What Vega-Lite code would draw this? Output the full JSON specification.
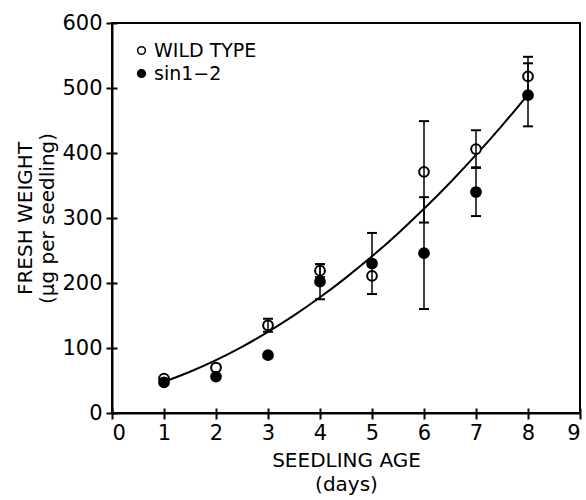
{
  "$schema": "https://vega.github.io/schema/vega-lite/v6.json",
  "width": 468,
  "height": 390,
  "autosize": {"type": "none"},
  "padding": {"left": 112, "top": 23, "right": 6, "bottom": 87},
  "config": {
    "view": {"stroke": "black", "strokeWidth": 2},
    "font": "DejaVu Sans",
    "axis": {
      "grid": false,
      "domainColor": "black",
      "domainWidth": 2,
      "tickColor": "black",
      "tickWidth": 2,
      "labelColor": "black",
      "labelFontSize": 21,
      "titleColor": "black",
      "titleFontSize": 20,
      "titleFontWeight": "normal"
    }
  },
  "datasets": {
    "obs": [
      {"day": 1, "series": "WILD TYPE", "fw": 53},
      {"day": 2, "series": "WILD TYPE", "fw": 70},
      {"day": 3, "series": "WILD TYPE", "fw": 135, "lo": 125, "hi": 145},
      {"day": 4, "series": "WILD TYPE", "fw": 219, "lo": 209, "hi": 229},
      {"day": 5, "series": "WILD TYPE", "fw": 211},
      {"day": 6, "series": "WILD TYPE", "fw": 371, "lo": 293, "hi": 449},
      {"day": 7, "series": "WILD TYPE", "fw": 406, "lo": 377, "hi": 435},
      {"day": 8, "series": "WILD TYPE", "fw": 518, "lo": 490, "hi": 548},
      {"day": 1, "series": "sin1−2", "fw": 47},
      {"day": 2, "series": "sin1−2", "fw": 56},
      {"day": 3, "series": "sin1−2", "fw": 89},
      {"day": 4, "series": "sin1−2", "fw": 202, "lo": 175, "hi": 229},
      {"day": 5, "series": "sin1−2", "fw": 230, "lo": 183, "hi": 277},
      {"day": 6, "series": "sin1−2", "fw": 246, "lo": 160, "hi": 332},
      {"day": 7, "series": "sin1−2", "fw": 340, "lo": 303, "hi": 378},
      {"day": 8, "series": "sin1−2", "fw": 489, "lo": 441, "hi": 538}
    ],
    "fit": [
      {"day": 1, "fw": 48},
      {"day": 1.5, "fw": 63.5},
      {"day": 2, "fw": 81.4},
      {"day": 2.5, "fw": 101.8},
      {"day": 3, "fw": 124.8},
      {"day": 3.5, "fw": 150.1},
      {"day": 4, "fw": 178},
      {"day": 4.5, "fw": 208.3},
      {"day": 5, "fw": 241.1},
      {"day": 5.5, "fw": 276.3},
      {"day": 6, "fw": 314.1},
      {"day": 6.5, "fw": 354.3},
      {"day": 7, "fw": 397},
      {"day": 7.5, "fw": 442.2},
      {"day": 8, "fw": 490}
    ]
  },
  "layer": [
    {
      "data": {"name": "fit"},
      "mark": {"type": "line", "color": "black", "strokeWidth": 2, "interpolate": "monotone"},
      "encoding": {
        "x": {"field": "day", "type": "quantitative", "scale": {"domain": [0, 9]},
          "axis": {"orient": "bottom", "values": [0,1,2,3,4,5,6,7,8,9], "tickSize": -5, "labels": false, "domain": false, "title": null}},
        "y": {"field": "fw", "type": "quantitative", "scale": {"domain": [0, 600]},
          "axis": {"orient": "left", "values": [0,100,200,300,400,500,600], "tickSize": -5, "labels": false, "domain": false, "title": null}}
      }
    },
    {
      "data": {"name": "obs"},
      "mark": {"type": "point", "shape": "circle", "filled": false, "stroke": "black", "strokeWidth": 2, "size": 95, "opacity": 1},
      "encoding": {
        "x": {"field": "day", "type": "quantitative", "scale": {"domain": [0, 9]},
          "axis": {"orient": "bottom", "values": [0,1,2,3,4,5,6,7,8,9], "tickSize": 6, "labelPadding": 3,
            "title": ["SEEDLING AGE", "(days)"], "titlePadding": 7, "titleLineHeight": 24}},
        "y": {"field": "fw", "type": "quantitative", "scale": {"domain": [0, 600]},
          "axis": {"orient": "left", "values": [0,100,200,300,400,500,600], "tickSize": 6, "labelPadding": 4,
            "title": ["FRESH WEIGHT", "(µg per seedling)"], "titlePadding": 4, "titleLineHeight": 22}},
        "fill": {"field": "series", "type": "nominal",
          "scale": {"domain": ["WILD TYPE", "sin1−2"], "range": ["white", "black"]},
          "legend": {"orient": "none", "legendX": 20, "legendY": 18, "title": null, "padding": 0,
            "labelFontSize": 19, "labelColor": "black", "labelOffset": 3, "symbolType": "circle", "symbolSize": 60,
            "symbolStrokeColor": "black", "symbolStrokeWidth": 1.5, "rowPadding": 3}}
      }
    },
    {
      "data": {"name": "obs"},
      "mark": {"type": "rule", "color": "black", "strokeWidth": 1.5},
      "encoding": {
        "x": {"field": "day", "type": "quantitative", "axis": null},
        "y": {"field": "lo", "type": "quantitative", "axis": null},
        "y2": {"field": "hi"}
      }
    },
    {
      "data": {"name": "obs"},
      "mark": {"type": "tick", "color": "black", "orient": "horizontal", "size": 10, "thickness": 2, "opacity": 1},
      "encoding": {
        "x": {"field": "day", "type": "quantitative", "axis": null},
        "y": {"field": "lo", "type": "quantitative", "axis": null}
      }
    },
    {
      "data": {"name": "obs"},
      "mark": {"type": "tick", "color": "black", "orient": "horizontal", "size": 10, "thickness": 2, "opacity": 1},
      "encoding": {
        "x": {"field": "day", "type": "quantitative", "axis": null},
        "y": {"field": "hi", "type": "quantitative", "axis": null}
      }
    }
  ],
  "resolve": {"axis": {"x": "independent", "y": "independent"}}
}
